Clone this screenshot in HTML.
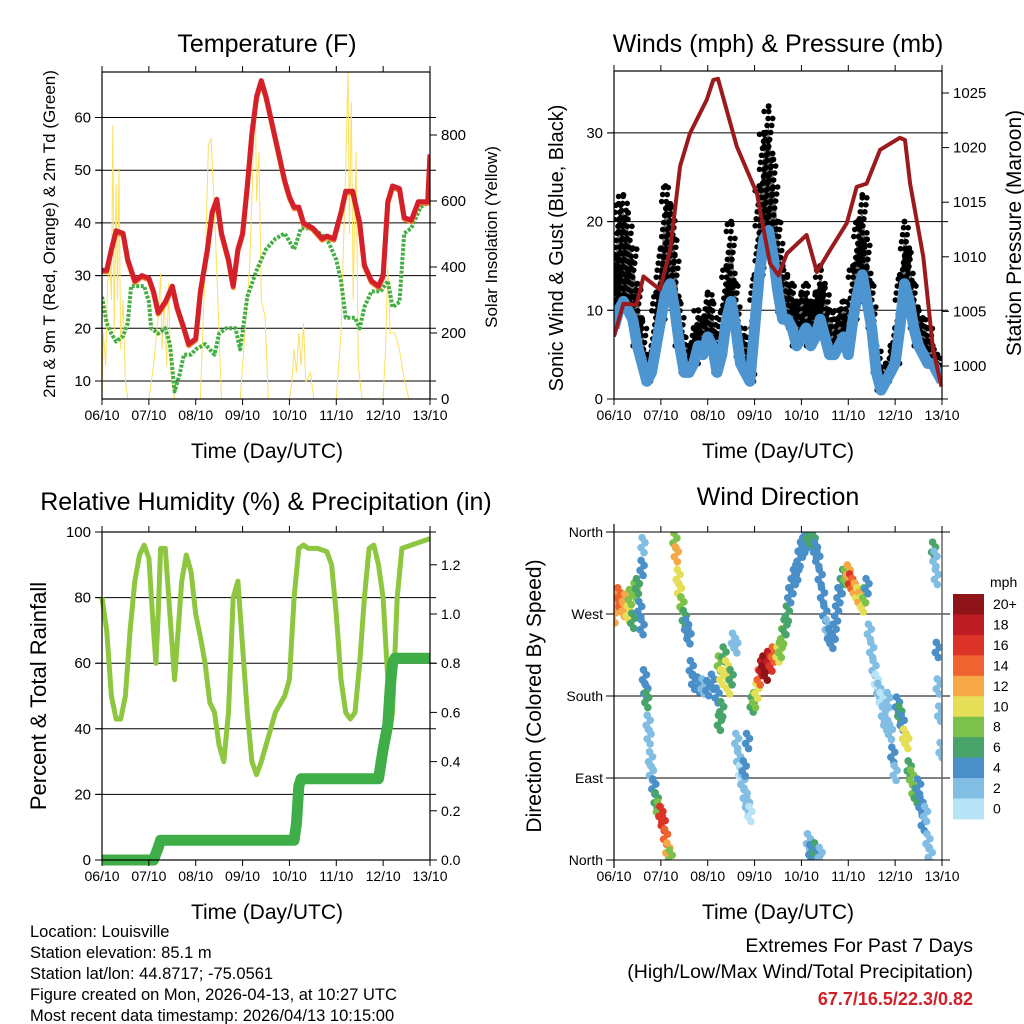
<!DOCTYPE html>
<html><head><meta charset="utf-8"><style>
html,body{margin:0;padding:0;background:#fff;}
svg{display:block;font-family:"Liberation Sans",Arial,sans-serif;}
</style></head><body>
<svg id="s" width="1024" height="1024" viewBox="0 0 1024 1024" xmlns="http://www.w3.org/2000/svg">
<rect width="1024" height="1024" fill="#fff"/>
<text x="267" y="52" font-size="25" text-anchor="middle">Temperature (F)</text>
<text x="778" y="52" font-size="25" text-anchor="middle">Winds (mph) &amp; Pressure (mb)</text>
<text x="266" y="510" font-size="25" text-anchor="middle">Relative Humidity (%) &amp; Precipitation (in)</text>
<text x="778" y="505" font-size="25" text-anchor="middle">Wind Direction</text>
<text x="267" y="458" font-size="21" text-anchor="middle">Time (Day/UTC)</text>
<text x="778" y="458" font-size="21" text-anchor="middle">Time (Day/UTC)</text>
<text x="267" y="919" font-size="21" text-anchor="middle">Time (Day/UTC)</text>
<text x="778" y="919" font-size="21" text-anchor="middle">Time (Day/UTC)</text>
<text transform="translate(55,234) rotate(-90)" font-size="17" text-anchor="middle">2m &amp; 9m T (Red, Orange) &amp; 2m Td (Green)</text>
<text transform="translate(497,237) rotate(-90)" font-size="17" text-anchor="middle">Solar Insolation (Yellow)</text>
<text transform="translate(563,248) rotate(-90)" font-size="20" text-anchor="middle">Sonic Wind &amp; Gust (Blue, Black)</text>
<text transform="translate(1021,233) rotate(-90)" font-size="21" text-anchor="middle">Station Pressure (Maroon)</text>
<text transform="translate(46,696) rotate(-90)" font-size="22" text-anchor="middle">Percent &amp; Total Rainfall</text>
<text transform="translate(541,696) rotate(-90)" font-size="21" text-anchor="middle">Direction (Colored By Speed)</text>
<g font-size="16.5">
<text x="30" y="937">Location: Louisville</text>
<text x="30" y="958">Station elevation: 85.1 m</text>
<text x="30" y="979">Station lat/lon: 44.8717; -75.0561</text>
<text x="30" y="1000">Figure created on Mon, 2026-04-13, at 10:27 UTC</text>
<text x="30" y="1021">Most recent data timestamp: 2026/04/13 10:15:00</text>
</g>
<g font-size="19.5" text-anchor="end">
<text x="973" y="952">Extremes For Past 7 Days</text>
<text x="973" y="978">(High/Low/Max Wind/Total Precipitation)</text>
<text x="973" y="1005" fill="#d0202a" font-weight="bold" font-size="18">67.7/16.5/22.3/0.82</text>
</g>
</svg>
<script>
// ---- data ----
const dayLabels=["06/10","07/10","08/10","09/10","10/10","11/10","12/10","13/10"];
const tT=[0,0.1,0.2,0.3,0.45,0.55,0.7,0.85,1.0,1.1,1.2,1.35,1.5,1.6,1.75,1.85,2.0,2.1,2.25,2.35,2.45,2.55,2.7,2.8,2.9,3.0,3.1,3.2,3.3,3.4,3.5,3.6,3.75,3.9,4.0,4.1,4.2,4.3,4.5,4.7,4.8,4.95,5.1,5.2,5.35,5.5,5.6,5.75,5.9,6.0,6.1,6.2,6.35,6.45,6.6,6.75,6.95,7.0];
const tempT=[31,31,35,38.5,38,33,29,30,29.5,27,23,25,28,24,20,17,18,27,35,42,44.5,38,33,28,35,38,47,57,64,67,64,60,54,48,45,43,43,40,39,37,37.5,37,42,46,46,40,32,29,28,30,44,47,46.5,41,40.5,44,44,53];
const tTd=[0,0.1,0.2,0.3,0.45,0.55,0.62,0.75,0.9,1.0,1.05,1.2,1.35,1.45,1.55,1.65,1.75,1.9,2.0,2.2,2.4,2.5,2.65,2.85,2.95,3.1,3.3,3.5,3.7,3.9,4.1,4.25,4.5,4.8,5.0,5.1,5.2,5.4,5.5,5.6,5.75,5.95,6.1,6.2,6.35,6.45,6.6,6.8,7.0];
const dewTd=[26,21,19,17.5,18.5,21,28,28,28,25,20,19,20,17,8,11,15,15,16,17,15,19,20,20,16,26,31,35,37,38,35,39,39,37,33,29,22,22,20,24,27,27,29,24,25,38,39,43,44];
const tSol=[0,0.03,0.08,0.12,0.16,0.2,0.23,0.26,0.3,0.33,0.36,0.4,0.45,0.5,0.55,1.0,1.1,1.2,1.25,1.28,1.33,1.38,1.42,1.47,1.55,2.1,2.2,2.27,2.33,2.42,2.55,2.95,3.05,3.15,3.22,3.27,3.3,3.35,3.4,3.48,3.55,4.0,4.05,4.1,4.15,4.2,4.25,4.3,4.35,4.45,4.52,5.0,5.1,5.2,5.25,5.28,5.32,5.36,5.42,5.47,5.55,6.0,6.05,6.1,6.15,6.25,6.35,6.45,6.55,7.0];
const solar=[0,200,100,350,450,300,830,200,650,300,700,150,300,50,0,0,100,250,380,150,300,100,350,80,0,0,400,770,790,500,0,0,200,400,700,920,600,750,300,250,0,0,50,150,80,200,100,230,50,80,0,0,200,700,1000,500,900,300,750,100,0,0,150,400,200,200,150,60,0,0];
const tempTicks=[10,20,30,40,50,60];
const solarTicks=[0,200,400,600,800];

const tW=[0,0.1,0.2,0.3,0.4,0.5,0.6,0.7,0.8,0.9,1.0,1.1,1.2,1.3,1.4,1.5,1.6,1.7,1.8,1.9,2.0,2.1,2.2,2.3,2.4,2.5,2.6,2.7,2.8,2.9,3.0,3.1,3.2,3.3,3.4,3.5,3.6,3.7,3.8,3.9,4.0,4.1,4.2,4.3,4.4,4.5,4.6,4.7,4.8,4.9,5.0,5.1,5.2,5.3,5.4,5.5,5.6,5.7,5.8,5.9,6.0,6.1,6.2,6.3,6.4,6.5,6.6,6.7,6.8,6.9,7.0];
const wind=[8,10,11,10,9,6,4,2,3,6,9,12,13,10,6,3,3,4,6,5,7,6,3,5,9,11,8,4,3,2,8,14,18,19,16,12,9,9,8,6,7,8,6,7,9,7,5,5,6,7,5,9,12,14,11,8,3,1,2,3,4,8,13,11,8,6,5,4,4,3,2];
const gust=[16,22,23,21,17,13,9,5,6,12,17,24,22,18,11,7,6,8,10,9,12,11,7,10,15,20,13,8,7,6,14,24,30,33,27,20,15,14,13,11,12,13,11,12,15,13,10,9,10,11,9,15,20,23,18,13,6,3,4,6,8,14,20,17,13,10,9,8,6,5,3];
const tP=[0,0.2,0.48,0.63,0.98,1.2,1.41,1.62,1.98,2.12,2.22,2.62,3.05,3.33,3.51,3.69,4.11,4.33,4.61,4.97,5.18,5.39,5.68,6.1,6.21,6.32,6.6,6.81,6.99];
const pressure=[1002.7,1005.7,1005.6,1008.2,1007.0,1010.6,1018.3,1021.3,1024.4,1026.2,1026.3,1020.1,1015.8,1009.4,1008.3,1010.3,1012.0,1008.6,1010.6,1013.1,1016.4,1016.7,1019.8,1020.9,1020.7,1016.7,1010.0,1001.5,998.1];
const windTicks=[0,10,20,30];
const pressTicks=[1000,1005,1010,1015,1020,1025];

const tRH=[0,0.1,0.2,0.3,0.4,0.5,0.6,0.7,0.8,0.9,1.0,1.1,1.15,1.2,1.25,1.35,1.45,1.55,1.7,1.8,1.9,2.0,2.1,2.2,2.3,2.4,2.5,2.6,2.7,2.8,2.9,3.0,3.1,3.2,3.3,3.4,3.5,3.6,3.7,3.9,4.0,4.1,4.2,4.3,4.4,4.6,4.8,4.9,5.0,5.1,5.2,5.3,5.4,5.5,5.6,5.7,5.8,5.9,6.0,6.1,6.15,6.2,6.3,6.4,6.6,6.8,7.0];
const rh=[80,70,50,43,43,50,70,85,93,96,92,70,60,75,95,95,75,55,85,93,88,75,68,60,48,45,35,30,45,80,85,65,45,30,26,30,35,40,45,50,55,80,95,96,95,95,94,90,75,55,45,43,45,60,80,95,96,90,80,55,40,45,80,95,96,97,98];
const tPr=[0,1.1,1.2,1.25,4.1,4.15,4.2,4.25,5.9,6.0,6.1,6.15,6.2,6.25,7.0];
const precip=[0,0,0.05,0.08,0.08,0.15,0.3,0.33,0.33,0.45,0.55,0.7,0.8,0.82,0.82];
const rhTicks=[0,20,40,60,80,100];
const precipTicks=[0.0,0.2,0.4,0.6,0.8,1.0,1.2];

const tDir=[0.0,0.05,0.1,0.15,0.2,0.25,0.3,0.35,0.4,0.45,0.5,0.55,0.6,0.6,0.62,0.65,0.68,0.7,0.73,0.75,0.78,0.8,0.85,0.9,0.95,1.0,1.05,1.1,1.15,1.2,1.3,1.33,1.37,1.4,1.45,1.5,1.55,1.6,1.65,1.7,1.8,1.9,2.0,2.1,2.2,2.25,2.3,2.35,2.4,2.45,2.5,2.55,2.6,2.25,2.3,2.62,2.66,2.7,2.75,2.8,2.85,2.9,2.78,2.85,2.95,3.0,3.05,3.1,3.15,3.2,3.25,3.3,3.35,3.4,3.5,3.55,3.6,3.65,3.7,3.75,3.8,3.85,3.9,3.95,4.0,4.05,4.1,4.15,4.2,4.25,4.3,4.35,4.4,4.45,4.5,4.55,4.6,4.65,4.7,4.75,4.8,4.85,4.9,4.15,4.2,4.25,4.3,4.35,4.4,4.95,5.0,5.05,5.1,5.15,5.2,5.25,5.3,5.35,5.4,5.45,5.5,5.55,5.6,5.65,5.7,5.75,5.8,5.85,5.9,5.95,6.0,6.05,6.1,6.15,6.2,6.25,6.3,6.35,6.4,6.45,6.5,6.55,6.6,6.65,6.7,6.75,6.82,6.85,6.88,6.9,6.92,6.95,6.98];
const dirDeg=[268,285,290,280,275,283,270,288,262,295,300,275,255,320,345,200,185,175,150,135,110,95,80,65,55,50,40,25,10,2,350,335,310,295,280,265,255,245,210,195,192,190,188,195,180,215,200,225,210,190,200,240,235,150,165,130,110,95,85,70,60,50,100,130,170,175,185,200,210,215,205,220,215,225,225,230,245,255,270,290,300,310,315,330,340,345,350,355,358,350,340,330,310,290,270,255,245,240,250,270,290,300,310,20,8,3,10,2,5,310,315,305,300,295,290,285,280,290,300,250,230,210,195,185,175,160,150,175,140,115,95,170,160,150,135,130,100,90,75,70,80,60,40,50,20,5,340,330,310,230,190,160,120];
const dirSpd=[12,12,13,14,12,12,10,8,6,8,6,4,4,4,2,4,4,6,2,2,2,2,4,6,8,16,16,14,12,8,8,12,10,10,8,6,4,4,4,4,4,2,4,4,4,8,10,6,10,10,6,2,2,6,6,2,2,0,2,2,2,0,4,4,6,8,10,14,18,20,20,18,16,14,10,8,8,6,6,4,4,4,4,4,4,4,4,6,6,6,4,4,4,4,4,2,4,4,4,4,4,4,6,2,4,4,6,4,2,8,12,16,14,12,10,12,10,8,4,2,2,2,0,2,0,2,2,2,2,4,2,4,6,4,10,10,6,8,8,6,4,4,4,2,2,2,6,2,2,4,2,2,2];
const cbLabels=["20+","18","16","14","12","10","8","6","4","2","0"];
const speedColors=["#b8e4f8","#82bde3","#4a8fc7","#48a46a","#7cc14a","#e5df58","#f6a847","#ee6330","#dc3328","#bd1c24","#8e1419"];
const dirTicks=[0,90,180,270,360];
const dirNames=["North","East","South","West","North"];

// ---- helpers ----
const NS="http://www.w3.org/2000/svg";
const S=document.getElementById('s');
function mk(tag,attrs,parent){const e=document.createElementNS(NS,tag);for(const k in attrs)e.setAttribute(k,attrs[k]);(parent||S).appendChild(e);return e;}
function poly(xs,ys,fx,fy){return xs.map((t,i)=>fx(t).toFixed(1)+','+fy(ys[i]).toFixed(1)).join(' ');}

function frame(name){
  const g=mk('g',{});
  
  
  return g;
}
function xAxis(g,x0,x1,y0,y1){
  for(let i=0;i<dayLabels.length;i++){
    const x=x0+(x1-x0)*i/7;
    const l=mk('line',{x1:x,x2:x,y1:y1,y2:y1+6,stroke:'#000','stroke-width':1},g);
    
    
    const l2=mk('line',{x1:x,x2:x,y1:y0,y2:y0-6,stroke:'#000','stroke-width':1},g);
    
    
    const t=mk('text',{x:x,y:y1+21,'font-size':14,'text-anchor':'middle'},g);
    t.textContent=dayLabels[i];
    
    
  }
}
function box(g,x0,x1,y0,y1){
  const r=mk('rect',{x:x0,y:y0,width:x1-x0,height:y1-y0,fill:'none',stroke:'#000','stroke-width':1.2},g);
  
  
}
function yTicks(g,vals,fy,x,side,labels,grid,gx0,gx1,fs){
  vals.forEach((v,i)=>{
    const y=fy(v);
    if(grid){const gl=mk('line',{x1:gx0,x2:gx1,y1:y,y2:y,stroke:'#000','stroke-width':1},g);
      
      }
    const tl=mk('line',{x1:x,x2:x+side*7,y1:y,y2:y,stroke:'#000','stroke-width':1},g);
    
    
    const t=mk('text',{x:x+side*11,y:y+5,'font-size':fs||13,'text-anchor':side<0?'end':'start'},g);
    t.textContent=labels?labels[i]:String(v);
    
    
  });
}

// ---- Panel 1: temperature ----
(function(){
  const x0=102,x1=430,y0=72,y1=399;
  const X=t=>x0+t*(x1-x0)/7;
  const Y=v=>381-(v-10)*5.27;
  const YS=v=>399-v*0.33;
  const g=frame('temperature-panel');
  yTicks(g,tempTicks,Y,x0,-1,null,true,x0-6,x1+6,15);
  yTicks(g,solarTicks,YS,x1,1,null,false,0,0,15);
  const cp=mk('clipPath',{id:'c1'},g);mk('rect',{x:x0,y:y0,width:x1-x0,height:y1-y0},cp);
  const pg=mk('g',{'clip-path':'url(#c1)'},g);
  const s=mk('polyline',{points:poly(tSol,solar,X,YS),fill:'none',stroke:'#fde05e','stroke-width':1},pg);
  
  
  const d=mk('polyline',{points:poly(tTd,dewTd,X,Y),fill:'none',stroke:'#44ae45','stroke-width':4,'stroke-dasharray':'3 1.5','stroke-linejoin':'round'},pg);
  
  
  const o=mk('polyline',{points:poly(tT,tempT,X,v=>Y(v)+1.5),fill:'none',stroke:'#f07f2a','stroke-width':5,'stroke-linejoin':'round'},pg);
  
  
  const r=mk('polyline',{points:poly(tT,tempT,X,Y),fill:'none',stroke:'#d4202a','stroke-width':5,'stroke-linejoin':'round'},pg);
  
  
  box(g,x0,x1,y0,y1);
  xAxis(g,x0,x1,y0,y1);
})();

// ---- Panel 2: winds & pressure ----
(function(){
  const x0=614,x1=942,y0=71,y1=399;
  const X=t=>x0+t*(x1-x0)/7;
  const Y=v=>399-v*8.87;
  const YP=v=>366-(v-1000)*10.92;
  const g=frame('winds-panel');
  yTicks(g,windTicks,Y,x0,-1,null,true,x0-6,x1+6,15);
  yTicks(g,pressTicks,YP,x1,1,null,false,0,0,15);
  const cp=mk('clipPath',{id:'c2'},g);mk('rect',{x:x0,y:y0,width:x1-x0,height:y1-y0},cp);
  const pg=mk('g',{'clip-path':'url(#c2)'},g);
  // gust dots: columns of dots from wind up to gust for each sample
  tW.forEach((t,i)=>{
    const xg=X(t), yTop=Y(gust[i]), yBot=Y(wind[i]);
    for(let yy=yBot;yy>=yTop;yy-=7){
      [-2.3,2.3].forEach(dx=>{
        const c=mk('circle',{cx:xg+dx+((yy*7)%5-2.5),cy:yy,r:2.8,fill:'#000'},pg);
        
        
      });
    }
    const c=mk('circle',{cx:xg,cy:yTop,r:3,fill:'#000'},pg);
    
    
  });
  const top=tW.map((t,i)=>X(t).toFixed(1)+','+Y(gust[i]*0.85+wind[i]*0.15).toFixed(1));
  const bot=tW.map((t,i)=>X(t).toFixed(1)+','+Y(wind[i]).toFixed(1)).reverse();
  const a=mk('polygon',{points:top.concat(bot).join(' '),fill:'#000','fill-opacity':0.55},pg);
  
  
  const w=mk('polyline',{points:poly(tW,wind,X,Y),fill:'none',stroke:'#4c95d0','stroke-width':11,'stroke-linejoin':'round'},pg);
  
  
  const p=mk('polyline',{points:poly(tP,pressure,X,YP),fill:'none',stroke:'#9b1a1e','stroke-width':4,'stroke-linejoin':'round'},pg);
  
  
  box(g,x0,x1,y0,y1);
  xAxis(g,x0,x1,y0,y1);
})();

// ---- Panel 3: RH & precip ----
(function(){
  const x0=102,x1=430,y0=532,y1=860;
  const X=t=>x0+t*(x1-x0)/7;
  const Y=v=>860-v*3.28;
  const YI=v=>Y(v*75);
  const g=frame('humidity-panel');
  yTicks(g,rhTicks,Y,x0,-1,null,true,x0-6,x1+6,15);
  yTicks(g,precipTicks,YI,x1,1,precipTicks.map(v=>v.toFixed(1)),false,0,0,14);
  const cp=mk('clipPath',{id:'c3'},g);mk('rect',{x:x0-6,y:y0,width:x1-x0+12,height:y1-y0+6},cp);
  const pg=mk('g',{'clip-path':'url(#c3)'},g);
  const r=mk('polyline',{points:poly(tRH,rh,X,Y),fill:'none',stroke:'#8dc63f','stroke-width':5,'stroke-linejoin':'round'},pg);
  
  
  const p=mk('polyline',{points:poly(tPr,precip,X,YI),fill:'none',stroke:'#3fad48','stroke-width':11,'stroke-linejoin':'round'},pg);
  
  
  box(g,x0,x1,y0,y1);
  xAxis(g,x0,x1,y0,y1);
})();

// ---- Panel 4: wind direction ----
(function(){
  const x0=614,x1=942,y0=532,y1=860;
  const X=t=>x0+t*(x1-x0)/7;
  const Y=v=>860-v*(y1-y0)/360;
  const g=frame('wind-direction-panel');
  yTicks(g,dirTicks,Y,x0,-1,dirNames,false,0,0,14);
  [90,180,270].forEach(v=>{const gl=mk('line',{x1:x0-8,x2:x1+8,y1:Y(v),y2:Y(v),stroke:'#000','stroke-width':1},g);
    
    });
  const cp=mk('clipPath',{id:'c4'},g);mk('rect',{x:x0,y:y0,width:x1-x0,height:y1-y0},cp);
  const pg=mk('g',{'clip-path':'url(#c4)'},g);
  const col=s=>speedColors[Math.max(0,Math.min(10,Math.round(s/2)))];
  tDir.forEach((t,i)=>{
    const cx=X(t),cy=Y(dirDeg[i]);
    [[-8,-1],[-3,2],[2,-2],[7,1]].forEach(([dy,dx])=>{
      const c=mk('circle',{cx:cx+dx,cy:cy+dy,r:3.8,fill:col(dirSpd[i])},pg);
      
      
    });
  });
  const ln=mk('line',{x1:x0,x2:x0,y1:y0-8,y2:y1+8,stroke:'#000','stroke-width':1.2},g);
  
  
  const rn=mk('line',{x1:x1,x2:x1,y1:y0,y2:y1,stroke:'#666','stroke-width':1.5},g);
  
  
  [0,360].forEach(v=>{const gl=mk('line',{x1:x0-8,x2:x1+8,y1:Y(v),y2:Y(v),stroke:'#000','stroke-width':1},g);
    
    });
  xAxis(g,x0,x1,y0,y1);
  // colorbar
  const cb=mk('g',{},S);
  
  
  const bx=953,by=594,bh=20.45;
  const ut=mk('text',{x:990,y:587,'font-size':14},cb);ut.textContent='mph';
  
  
  cbLabels.forEach((lab,i)=>{
    const r=mk('rect',{x:bx,y:by+i*bh,width:31,height:bh+0.5,fill:speedColors[10-i]},cb);
    
    
    const t=mk('text',{x:993,y:by+i*bh+15,'font-size':14},cb);t.textContent=lab;
    
    
  });
})();
</script>
</body></html>
